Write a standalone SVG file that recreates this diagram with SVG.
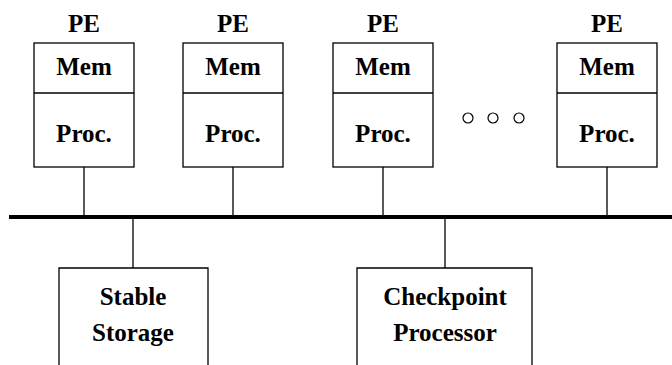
<svg xmlns="http://www.w3.org/2000/svg" width="672" height="365" viewBox="0 0 672 365">
<style>
.box{fill:none;stroke:#000;stroke-width:1.3}
.ln{stroke:#000;stroke-width:1.3;fill:none}
.bus{stroke:#000;stroke-width:4;fill:none}
.t{font-family:'Liberation Serif',Tinos,'Times New Roman',serif;font-weight:700;font-size:25px;fill:#000;text-anchor:middle}
.dot{fill:none;stroke:#000;stroke-width:1.2}
</style>
<rect width="672" height="365" fill="#fff"/>
<g id="pe1" class="t">
<text x="84" y="32">PE</text>
<rect class="box" x="34" y="43" width="100" height="124"/>
<line class="ln" x1="34" y1="93" x2="134" y2="93"/>
<text x="84" y="75">Mem</text>
<text x="84" y="142">Proc.</text>
</g>
<g id="pe2" class="t">
<text x="233" y="32">PE</text>
<rect class="box" x="183" y="43" width="100" height="124"/>
<line class="ln" x1="183" y1="93" x2="283" y2="93"/>
<text x="233" y="75">Mem</text>
<text x="233" y="142">Proc.</text>
</g>
<g id="pe3" class="t">
<text x="383" y="32">PE</text>
<rect class="box" x="333" y="43" width="100" height="124"/>
<line class="ln" x1="333" y1="93" x2="433" y2="93"/>
<text x="383" y="75">Mem</text>
<text x="383" y="142">Proc.</text>
</g>
<g id="ellipsis">
<circle class="dot" cx="468" cy="118" r="5"/>
<circle class="dot" cx="493" cy="118" r="5"/>
<circle class="dot" cx="519" cy="118" r="5"/>
</g>
<g id="pe4" class="t">
<text x="607" y="32">PE</text>
<rect class="box" x="557" y="43" width="100" height="124"/>
<line class="ln" x1="557" y1="93" x2="657" y2="93"/>
<text x="607" y="75">Mem</text>
<text x="607" y="142">Proc.</text>
</g>
<g id="stable" class="t">
<path class="box" d="M59,366 V268 H208 V366"/>
<text x="133" y="305">Stable</text>
<text x="133" y="341">Storage</text>
</g>
<g id="checkpoint" class="t">
<path class="box" d="M357,366 V268 H532 V366"/>
<text x="445" y="305">Checkpoint</text>
<text x="445" y="341">Processor</text>
</g>
<g id="connectors">
<line class="bus" x1="9" y1="217" x2="672" y2="217"/>
<line class="ln" x1="84" y1="167" x2="84" y2="217"/>
<line class="ln" x1="233" y1="167" x2="233" y2="217"/>
<line class="ln" x1="383" y1="167" x2="383" y2="217"/>
<line class="ln" x1="607" y1="167" x2="607" y2="217"/>
<line class="ln" x1="133" y1="217" x2="133" y2="268"/>
<line class="ln" x1="445" y1="217" x2="445" y2="268"/>
</g>
</svg>
